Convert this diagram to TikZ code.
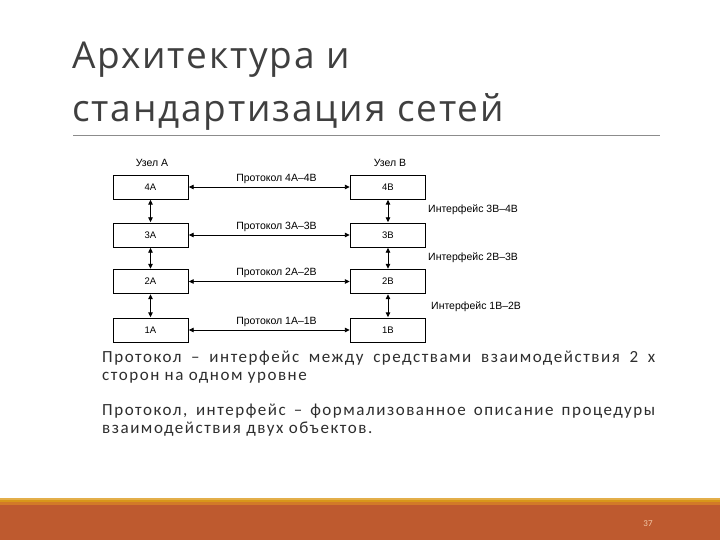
\documentclass[tikz,border=0pt]{standalone}
\usepackage{fontspec}
\setmainfont{Carlito}
\newfontfamily\bodyfont[LetterSpace=9]{Carlito}
\newfontfamily\titlefont[LetterSpace=5]{Open Sans}
\newfontfamily\diagfont{Liberation Sans}
\usetikzlibrary{arrows.meta}
\definecolor{titlegray}{HTML}{3F3F3F}
\definecolor{bodygray}{HTML}{2E2E2E}
\definecolor{rulegray}{HTML}{8C8C8C}
\definecolor{goldA}{HTML}{E3AE4A}
\definecolor{goldB}{HTML}{D8961A}
\definecolor{orangeC}{HTML}{D27A28}
\definecolor{rust}{HTML}{BE5A2F}
\definecolor{pagenum}{HTML}{F2C8A8}
\tikzset{
  stackbox/.style={draw=black, line width=0.8bp, fill=white, minimum width=75bp, minimum height=24bp, inner sep=0pt, font=\diagfont\fontsize{9.5bp}{10bp}\selectfont},
  dbl/.style={{Triangle[length=5bp,width=4.5bp]}-{Triangle[length=5bp,width=4.5bp]}, line width=0.9bp, shorten <=0.3bp, shorten >=0.3bp},
  dlabel/.style={font=\diagfont\fontsize{10.5bp}{12bp}\selectfont, inner sep=0pt},
  titletext/.style={anchor=base west, inner sep=0pt, text=titlegray, font=\titlefont\fontsize{37bp}{44bp}\selectfont},
  bodytext/.style={anchor=base west, inner sep=0pt, text=bodygray, font=\bodyfont\fontsize{17bp}{19bp}\selectfont}
}
\begin{document}
\begin{tikzpicture}[x=1bp,y=-1bp]
\useasboundingbox (0,0) rectangle (720,540);
\fill[white] (0,0) rectangle (720,540);

% title
\node[titletext] (t1) at (72,69) {Архитектура и};
\node[titletext] (t2) at (72,122) {стандартизация сетей};
\draw[rulegray, line width=1bp] (73,136) -- (660,136);

% diagram
\node[dlabel] (ua) at (152,163) {Узел А};
\node[dlabel] (ub) at (390,163) {Узел В};

\node[stackbox] (a4) at (150.5,187) {4А};
\node[stackbox] (a3) at (150.5,235) {3А};
\node[stackbox] (a2) at (150.5,281.5) {2А};
\node[stackbox] (a1) at (150.5,330) {1А};

\node[stackbox] (b4) at (388,187) {4В};
\node[stackbox] (b3) at (388,235) {3В};
\node[stackbox] (b2) at (388,281.5) {2В};
\node[stackbox] (b1) at (388,330) {1В};

\draw[dbl] (a4) -- node[dlabel, pos=0.545, above=3bp] {Протокол 4А–4В} (b4);
\draw[dbl] (a3) -- node[dlabel, pos=0.545, above=3bp] {Протокол 3А–3В} (b3);
\draw[dbl] (a2) -- node[dlabel, pos=0.545, above=3bp] {Протокол 2А–2В} (b2);
\draw[dbl] (a1) -- node[dlabel, pos=0.545, above=3bp] {Протокол 1А–1В} (b1);

\draw[dbl] (a4) -- (a3);
\draw[dbl] (a3) -- (a2);
\draw[dbl] (a2) -- (a1);
\draw[dbl] (b4) -- (b3);
\draw[dbl] (b3) -- (b2);
\draw[dbl] (b2) -- (b1);

\node[dlabel, anchor=west] (i34) at (428,210) {Интерфейс 3В–4В};
\node[dlabel, anchor=west] (i23) at (428,258) {Интерфейс 2В–3В};
\node[dlabel, anchor=west] (i12) at (431,307) {Интерфейс 1В–2В};

% body text
\node[bodytext] (p1) at (102,362) {\makebox[553bp][s]{Протокол – интерфейс между средствами взаимодействия 2 х}};
\node[bodytext] (p2) at (102,380) {сторон на одном уровне};
\node[bodytext] (p3) at (102,415) {\makebox[553bp][s]{Протокол, интерфейс – формализованное описание процедуры}};
\node[bodytext] (p4) at (102,433) {взаимодействия двух объектов.};

% footer
\fill[goldA] (0,497.5) rectangle (720,499.5);
\fill[goldB] (0,499.5) rectangle (720,502);
\fill[orangeC] (0,502) rectangle (720,504.5);
\fill[rust] (0,504.5) rectangle (720,540);
\node[inner sep=0pt, text=pagenum, font=\fontsize{9bp}{10bp}\selectfont] (pn) at (648,524) {37};
\end{tikzpicture}
\end{document}
